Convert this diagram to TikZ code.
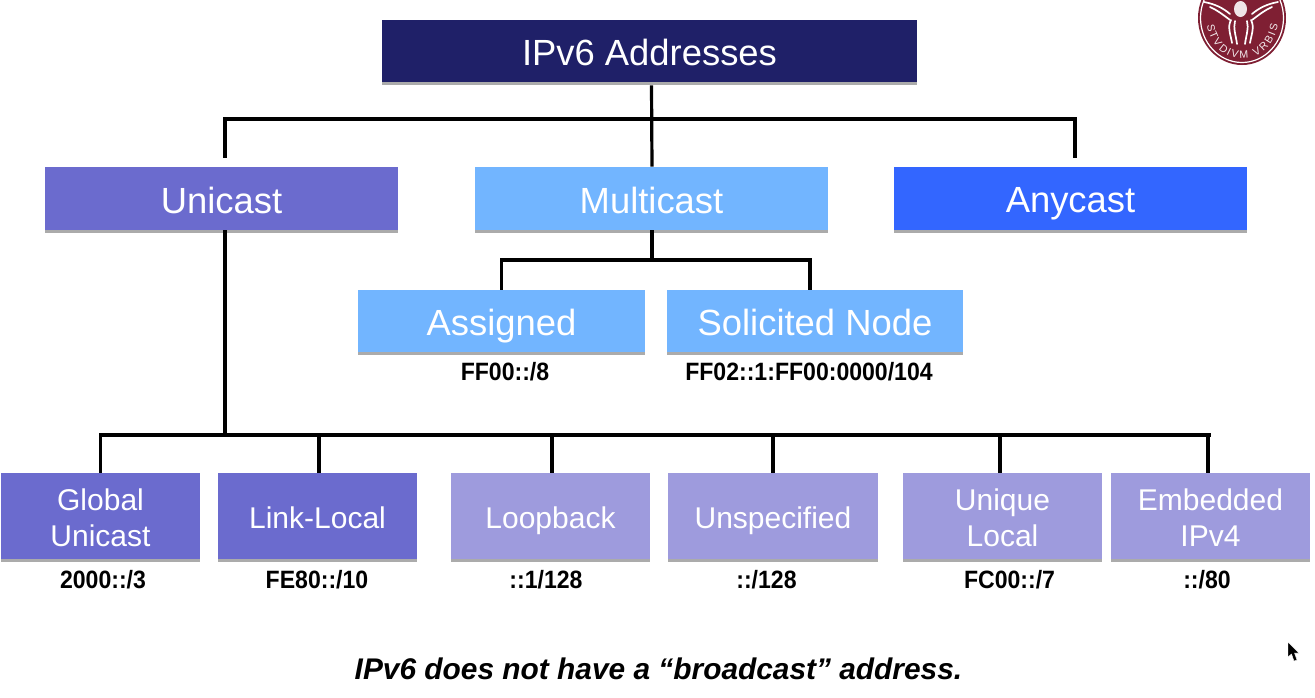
\documentclass[tikz,border=0pt]{standalone}
\usepackage{fontspec}
\setmainfont{Liberation Sans}
\newfontfamily\labelfont[FakeStretch=0.92]{Liberation Sans}
\usetikzlibrary{decorations.text}
\definecolor{navybox}{HTML}{1F2068}
\definecolor{unibox}{HTML}{6B6BCE}
\definecolor{multibox}{HTML}{72B5FF}
\definecolor{anybox}{HTML}{3366FF}
\definecolor{paleuni}{HTML}{9E9BDD}
\definecolor{sealred}{HTML}{7F1F33}
\newcommand{\pxu}{0.75pt}
\newcommand{\cs}{\rule[-0.2em]{0pt}{1.116em}}
\tikzset{
  x=0.75pt,y=-0.75pt,
  boxbase/.style={rectangle,inner sep=0pt,text=white,align=center,fill=#1,
    path picture={\fill[black!33] ([yshift=3*\pxu]path picture bounding box.south west) rectangle (path picture bounding box.south east);}},
  bigbox/.style={boxbase=#1,minimum width=353*\pxu,minimum height=66*\pxu,font=\fontsize{27.3pt}{27pt}\selectfont},
  midbox/.style={boxbase=multibox,minimum height=65*\pxu,font=\fontsize{27.3pt}{27pt}\selectfont},
  lowbox/.style={boxbase=#1,minimum width=199*\pxu,minimum height=89*\pxu,font=\fontsize{22.5pt}{27pt}\selectfont},
  prefixlabel/.style={inner sep=0pt,font=\labelfont\fontsize{18.8pt}{20pt}\selectfont\bfseries,text=black},
  link/.style={draw=black,line width=3.2*\pxu},
  feather/.style={draw=white,line width=1.7*\pxu,line cap=round},
}
\begin{document}
\begin{tikzpicture}
\useasboundingbox (0,0) rectangle (1315,697);
% top
\node[boxbase=navybox,minimum width=535*\pxu,minimum height=65*\pxu,font=\fontsize{27.3pt}{27pt}\selectfont] (ipv6) at (649.5,52.5) {\cs IPv6 Addresses};
\node[bigbox=unibox] (unicast) at (221.5,200) {\cs Unicast};
\node[bigbox=multibox] (multicast) at (651.5,200) {\cs Multicast};
\node[bigbox=anybox] (anycast) at (1070.5,200) {\cs Anycast};
\node[midbox,minimum width=287*\pxu] (assigned) at (501.5,322.5) {\cs Assigned};
\node[midbox,minimum width=296*\pxu] (solicited) at (815,322.5) {\cs Solicited Node};
\node[prefixlabel] (passigned) at (505,372) {FF00::/8};
\node[prefixlabel] (psolicited) at (809,372) {FF02::1:FF00:0000/104};
% bottom row
\node[lowbox=unibox] (global) at (100.5,517.5) {\cs Global\\\cs Unicast};
\node[lowbox=unibox] (linklocal) at (317.5,517.5) {\cs Link-Local};
\node[lowbox=paleuni] (loopback) at (550.5,517.5) {\cs Loopback};
\node[lowbox=paleuni,minimum width=210*\pxu] (unspecified) at (773,517.5) {\cs Unspecified};
\node[lowbox=paleuni] (uniquelocal) at (1002.5,517.5) {\cs Unique\\\cs Local};
\node[lowbox=paleuni] (embedded) at (1210.5,517.5) {\cs Embedded\\\cs IPv4};
\node[prefixlabel] (pglobal) at (103,580) {2000::/3};
\node[prefixlabel] (plink) at (317,580) {FE80::/10};
\node[prefixlabel] (ploop) at (546,580) {::1/128};
\node[prefixlabel] (punspec) at (766.5,580) {::/128};
\node[prefixlabel] (punique) at (1009.5,580) {FC00::/7};
\node[prefixlabel] (pembed) at (1207,580) {::/80};
\node[inner sep=0pt,text=black,font=\fontsize{22.4pt}{24pt}\selectfont\bfseries\itshape] (note) at (658.5,669) {IPv6 does not have a “broadcast” address.};
% connectors
\coordinate (topL) at (225,119);
\coordinate (topR) at (1075,119);
\coordinate (unicastStub) at (225,158);
\coordinate (anycastStub) at (1075,158);
\coordinate (multiBus) at (652,260);
\coordinate (multiL) at (501.5,260);
\coordinate (multiR) at (810,260);
\coordinate (solicitedTop) at (810,290);
\coordinate (busL) at (101,435);
\coordinate (busR) at (1209,435);
\coordinate (busU) at (225,435);
\draw[link] ([xshift=2*\pxu]ipv6.south) -- ([xshift=0.5*\pxu]multicast.north);
\draw[link,line cap=rect] (topL) -- (topR);
\draw[link] (topL) -- (unicastStub);
\draw[link] (topR) -- (anycastStub);
\draw[link] ([xshift=3.5*\pxu,yshift=3*\pxu]unicast.south) -- (busU);
\draw[link] ([xshift=0.5*\pxu,yshift=3*\pxu]multicast.south) -- (multiBus);
\draw[link,line cap=rect] (multiL) -- (multiR);
\draw[link] (multiL) -- (assigned.north);
\draw[link] (multiR) -- (solicitedTop);
\draw[link,line cap=rect] (busL) -- (busR);
\draw[link] (global.north |- busL) -- (global.north);
\draw[link] ([xshift=1.5*\pxu]linklocal.north |- busL) -- ([xshift=1.5*\pxu]linklocal.north);
\draw[link] ([xshift=1.5*\pxu]loopback.north |- busL) -- ([xshift=1.5*\pxu]loopback.north);
\draw[link] (unspecified.north |- busL) -- (unspecified.north);
\draw[link] ([xshift=-2.5*\pxu]uniquelocal.north |- busL) -- ([xshift=-2.5*\pxu]uniquelocal.north);
\draw[link] ([xshift=-2.5*\pxu]embedded.north |- busL) -- ([xshift=-2.5*\pxu]embedded.north);
% seal
\begin{scope}
\clip (1190,0) rectangle (1300,70);
\fill[sealred] (1242,18) ellipse [x radius=44,y radius=47];
\draw[white,line width=1.2*\pxu] (1242,18) ellipse [x radius=41.5,y radius=44.5];
\fill[white!88!sealred] (1240.5,9) ellipse [x radius=6.5,y radius=8];
\foreach \s in {-1,1}{
  \draw[feather] ({1241+\s*37},2) .. controls ({1241+\s*26},4) and ({1241+\s*18},8) .. ({1241+\s*11},14);
  \draw[feather] ({1241+\s*31},7) .. controls ({1241+\s*24},10) and ({1241+\s*19},14) .. ({1241+\s*11},20);
  \draw[feather] ({1241+\s*10},20) .. controls ({1241+\s*14},27) and ({1241+\s*10},36) .. ({1241+\s*9},43);
  \draw[feather] ({1241+\s*6},21) .. controls ({1241+\s*8},28) and ({1241+\s*5},36) .. ({1241+\s*4},44);
}
\path[decorate,decoration={text along path,text align={fit to path},text color=white!90!sealred,
  text={|\fontsize{8pt}{8pt}\selectfont|STVDIVM VRBIS}}]
  (1207,25) .. controls (1214,70) and (1270,70) .. (1278,25);
\end{scope}
% pointer
\fill[black,draw=white,line width=0.4*\pxu] (1288,642) -- (1288,657) -- (1291.5,654) -- (1294,661) -- (1297,660) -- (1294.5,653) -- (1299,653) -- cycle;
\end{tikzpicture}
\end{document}
